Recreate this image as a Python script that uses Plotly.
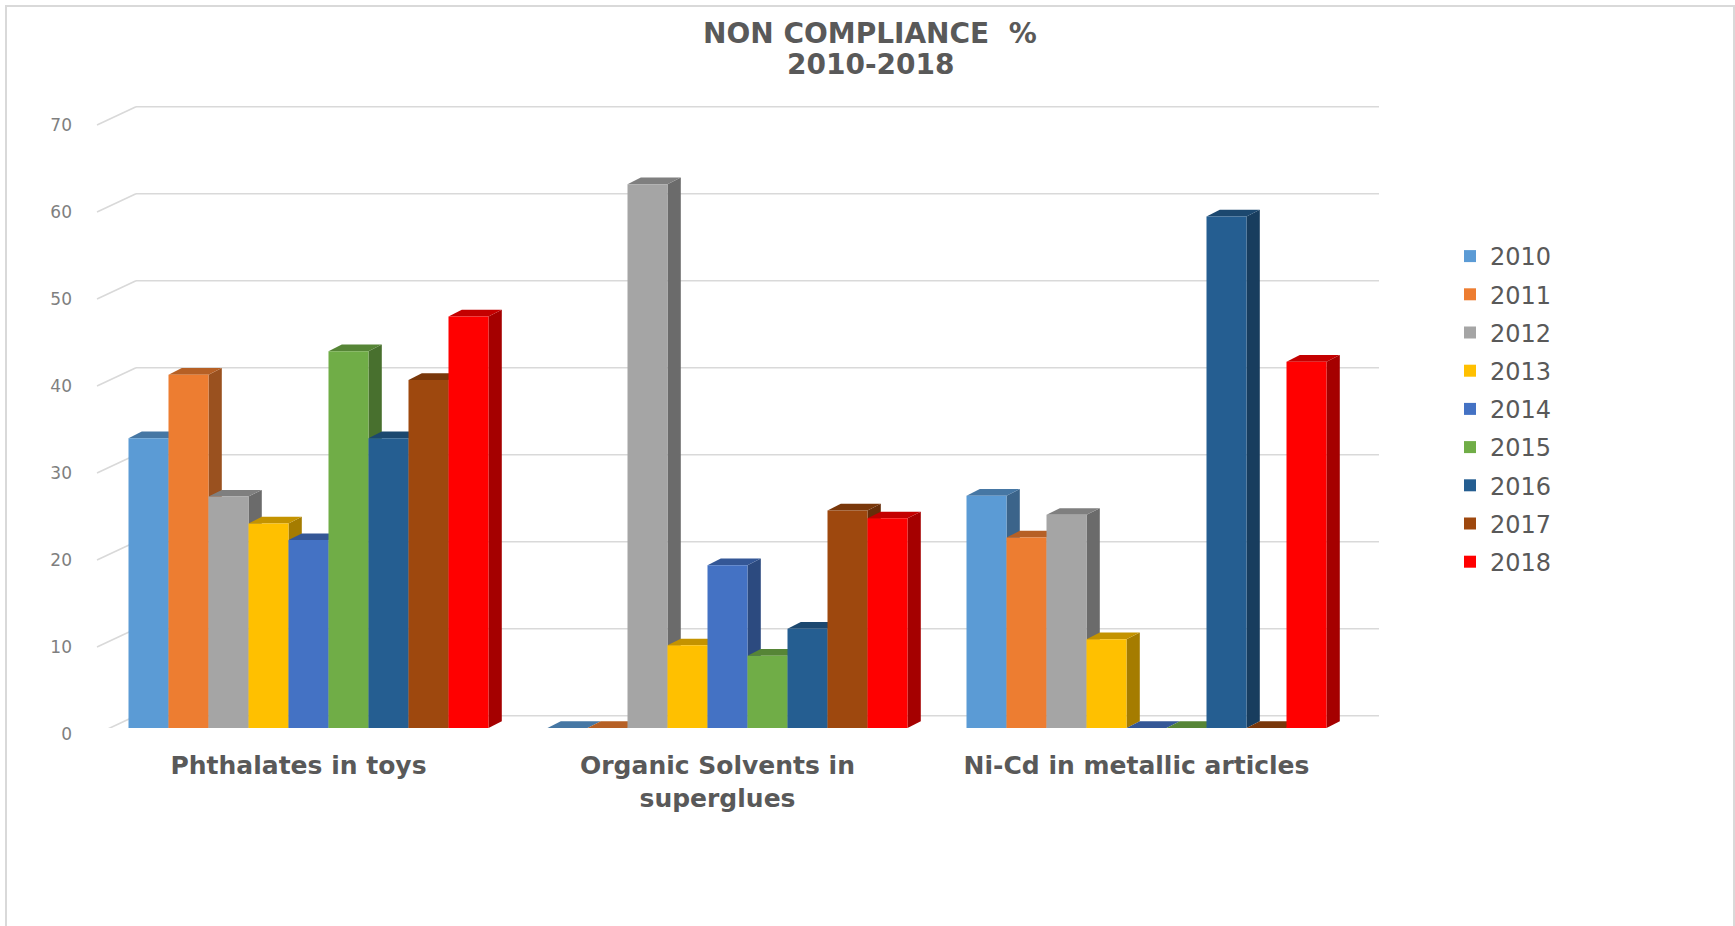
import plotly.graph_objects as go

# ---------------- data ----------------
categories = ["Phthalates in toys", "Organic Solvents in<br>superglues", "Ni-Cd in metallic articles"]
years = ["2010", "2011", "2012", "2013", "2014", "2015", "2016", "2017", "2018"]
v2010 = [33.3, 0.0, 26.7]
v2011 = [40.6, 0.0, 21.9]
v2012 = [26.6, 62.5, 24.5]
v2013 = [23.5, 9.5, 10.2]
v2014 = [21.6, 18.7, 0.0]
v2015 = [43.3, 8.3, 0.0]
v2016 = [33.3, 11.4, 58.8]
v2017 = [40.0, 25.0, 0.0]
v2018 = [47.3, 24.1, 42.1]
y_ticks = [0, 10, 20, 30, 40, 50, 60, 70]
title_line1 = "NON COMPLIANCE  %"
title_line2 = "2010-2018"

series = [v2010, v2011, v2012, v2013, v2014, v2015, v2016, v2017, v2018]
colors = ["#5B9BD5", "#ED7D31", "#A5A5A5", "#FFC000", "#4472C4",
          "#70AD47", "#255E91", "#9E480E", "#FF0000"]

# ---------------- geometry / style ----------------
W, H = 1735, 926
PX_PER_X = 419.0          # px per category
CAT0_PX = 308.5           # px of first category centre
PLOT_L, PLOT_R = 91, 1398
PLOT_T, PLOT_B = 100, 728
x_range = [(PLOT_L - CAT0_PX) / PX_PER_X, (PLOT_R - CAT0_PX) / PX_PER_X]
PX_PER_Y = 8.7
y_range = [0, (PLOT_B - PLOT_T) / PX_PER_Y]

bw = 40 / PX_PER_X        # bar width in x units
dx = 13.3 / PX_PER_X      # depth offset (x)
dy = 6.7 / PX_PER_Y       # depth offset (y)
grid_dy = 1.4             # back wall offset (y units)
grid_x0 = (136 - CAT0_PX) / PX_PER_X
grid_x1 = (1379 - CAT0_PX) / PX_PER_X
front_x = (97 - CAT0_PX) / PX_PER_X
front_dy = -0.69


def shade(hexc, f):
    h = hexc.lstrip("#")
    r, g, b = int(h[0:2], 16), int(h[2:4], 16), int(h[4:6], 16)
    return "rgb(%d,%d,%d)" % (int(r * f), int(g * f), int(b * f))


fig = go.Figure()
shapes = []

# back-wall gridlines + slanted connectors
for v in y_ticks:
    shapes.append(dict(type="line", xref="x", yref="y", x0=grid_x0, x1=grid_x1,
                       y0=v + grid_dy, y1=v + grid_dy, layer="below",
                       line=dict(color="#d9d9d9", width=1.6)))
    shapes.append(dict(type="line", xref="x", yref="y", x0=front_x, x1=grid_x0,
                       y0=v + front_dy, y1=v + grid_dy, layer="below",
                       line=dict(color="#d9d9d9", width=1.6)))

cat_x = list(range(len(categories)))
for j, (yr, vals, col) in enumerate(zip(years, series, colors)):
    off = (j - 4.5) * bw
    fig.add_trace(go.Bar(
        x=cat_x, y=vals, name=yr, width=bw, offset=off,
        marker=dict(color=col, line=dict(width=0)),
        legendgroup=yr,
    ))

# 3D faces (side + top), computed from the data
for i in cat_x:
    for j, (vals, col) in enumerate(zip(series, colors)):
        v = vals[i]
        xl = i + (j - 4.5) * bw
        xr = xl + bw
        side = "M %f,%f L %f,%f L %f,%f L %f,%f Z" % (
            xr, 0, xr + dx, dy, xr + dx, v + dy, xr, v)
        top = "M %f,%f L %f,%f L %f,%f L %f,%f Z" % (
            xl, v, xl + dx, v + dy, xr + dx, v + dy, xr, v)
        shapes.append(dict(type="path", xref="x", yref="y", path=side, layer="below",
                           fillcolor=shade(col, 0.65), line=dict(width=0)))
        shapes.append(dict(type="path", xref="x", yref="y", path=top, layer="below",
                           fillcolor=shade(col, 0.77), line=dict(width=0)))

# chart frame
pw = PLOT_R - PLOT_L
ph = PLOT_B - PLOT_T
shapes.append(dict(type="rect", xref="paper", yref="paper",
                   x0=(6 - PLOT_L) / pw, x1=(1734 - PLOT_L) / pw,
                   y0=(PLOT_B - 930) / ph, y1=(PLOT_B - 6) / ph,
                   line=dict(color="#d9d9d9", width=2), layer="below"))

title_font = dict(family="DejaVu Sans", size=28, color="#595959", weight="bold")
annotations = [
    dict(text=title_line1, xref="paper", yref="paper",
         x=(870 - PLOT_L) / pw, y=(PLOT_B - 33.5) / ph, xanchor="center", yanchor="middle",
         showarrow=False, font=title_font),
    dict(text=title_line2, xref="paper", yref="paper",
         x=(870 - PLOT_L) / pw, y=(PLOT_B - 64) / ph, xanchor="center", yanchor="middle",
         showarrow=False, font=title_font),
]

fig.update_layout(
    width=W, height=H,
    margin=dict(l=PLOT_L, r=W - PLOT_R, t=PLOT_T, b=H - PLOT_B, autoexpand=False),
    paper_bgcolor="white", plot_bgcolor="rgba(0,0,0,0)",
    barmode="overlay",
    shapes=shapes,
    annotations=annotations,
    showlegend=True,
    legend=dict(x=(1450 - PLOT_L) / pw, y=(PLOT_B - 234) / ph,
                xanchor="left", yanchor="top",
                font=dict(family="DejaVu Sans", size=24, color="#595959"),
                tracegroupgap=4, bgcolor="rgba(0,0,0,0)"),
    xaxis=dict(range=x_range, tickmode="array", tickvals=cat_x, ticktext=categories,
               showgrid=False, zeroline=False, showline=False, ticks="",
               tickfont=dict(family="DejaVu Sans", size=25, color="#595959", weight="bold"),
               ticklabelstandoff=20, ticklabelshift=-10),
    yaxis=dict(range=y_range, tickmode="array", tickvals=y_ticks,
               ticktext=[str(t) for t in y_ticks],
               showgrid=False, zeroline=False, showline=False, ticks="",
               tickfont=dict(family="DejaVu Sans", size=17, color="#7f7f7f"),
               ticklabelshift=6, ticklabelstandoff=18),
    font=dict(family="DejaVu Sans"),
)

fig.write_html("out.html", config={"displayModeBar": False},
               post_script="document.body.style.margin='0';")
